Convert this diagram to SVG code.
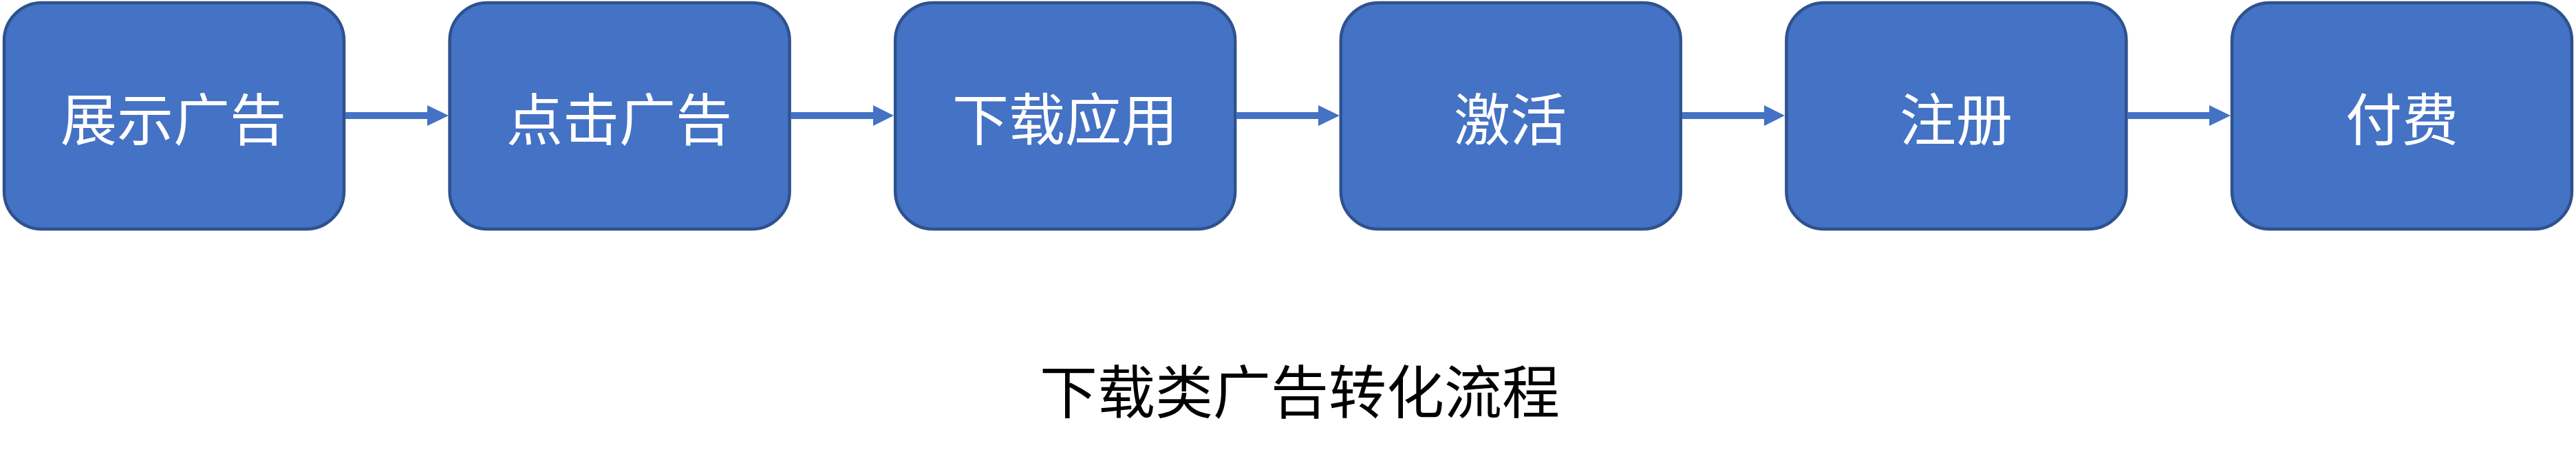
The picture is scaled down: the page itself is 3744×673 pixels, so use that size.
<svg xmlns="http://www.w3.org/2000/svg" width="3744" height="673" viewBox="0 0 3744 673">
<defs>
<style>
.box{fill:#4472C4;stroke:#2F528F;stroke-width:4.5}
.lbl{fill:#FFFFFF;font-family:"Noto Sans CJK SC","Noto Sans",sans-serif;font-size:82px;text-anchor:middle;dominant-baseline:central}
.title{fill:#000000;font-family:"Noto Sans CJK SC","Noto Sans",sans-serif;font-size:84px;text-anchor:middle;dominant-baseline:central}
.conn{stroke:#4472C4;stroke-width:10;fill:none}
.head{fill:#4472C4}
</style>
</defs>
<rect width="3744" height="673" fill="#FFFFFF"/>
<g id="n1"><rect class="box" x="6" y="4" width="494" height="329" rx="55"/><text class="lbl" x="252" y="168">展示广告</text></g>
<g id="n2"><rect class="box" x="653.6" y="4" width="494" height="329" rx="55"/><text class="lbl" x="900" y="168">点击广告</text></g>
<g id="n3"><rect class="box" x="1301.2" y="4" width="494" height="329" rx="55"/><text class="lbl" x="1548" y="168">下载应用</text></g>
<g id="n4"><rect class="box" x="1948.8" y="4" width="494" height="329" rx="55"/><text class="lbl" x="2195" y="168">激活</text></g>
<g id="n5"><rect class="box" x="2596.4" y="4" width="494" height="329" rx="55"/><text class="lbl" x="2843" y="168">注册</text></g>
<g id="n6"><rect class="box" x="3244" y="4" width="494" height="329" rx="55"/><text class="lbl" x="3491" y="168">付费</text></g>
<g id="connectors">
<line class="conn" x1="502" y1="168" x2="623" y2="168"/><polygon class="head" points="621,153 652,168 621,183"/>
<line class="conn" x1="1150" y1="168" x2="1271" y2="168"/><polygon class="head" points="1269,153 1299,168 1269,183"/>
<line class="conn" x1="1797" y1="168" x2="1918" y2="168"/><polygon class="head" points="1916,153 1947,168 1916,183"/>
<line class="conn" x1="2445" y1="168" x2="2566" y2="168"/><polygon class="head" points="2564,153 2594,168 2564,183"/>
<line class="conn" x1="3092" y1="168" x2="3213" y2="168"/><polygon class="head" points="3211,153 3242,168 3211,183"/>
</g>
<text id="title" class="title" x="1889" y="564">下载类广告转化流程</text>
</svg>
